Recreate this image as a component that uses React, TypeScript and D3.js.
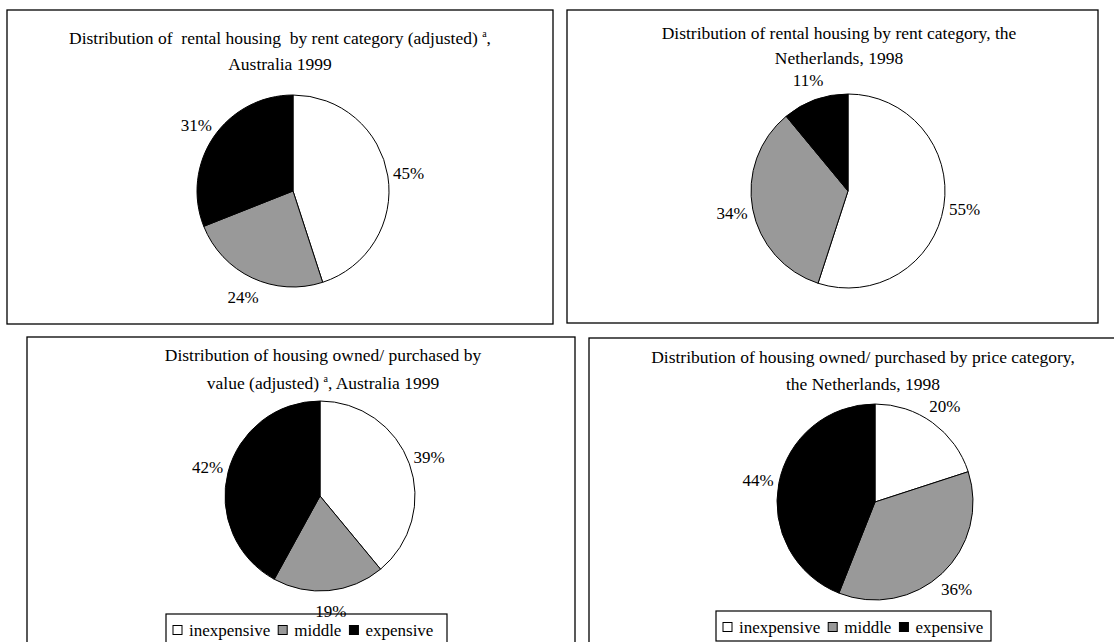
import React, { useEffect, useRef } from "react";
import * as d3 from "d3";

// Shares (%) per category, in the order inexpensive, middle, expensive
const categories = ["inexpensive", "middle", "expensive"];
const rentAustralia = [45, 24, 31];
const rentNetherlands = [55, 34, 11];
const ownedAustralia = [39, 19, 42];
const ownedNetherlands = [20, 36, 44];

// Title lines; "^a" marks a superscript footnote letter
const titleRentAustralia = [
  "Distribution of  rental housing  by rent category (adjusted) ^a,",
  "Australia 1999",
];
const titleRentNetherlands = [
  "Distribution of rental housing by rent category, the",
  "Netherlands, 1998",
];
const titleOwnedAustralia = [
  "Distribution of housing owned/ purchased by",
  "value (adjusted) ^a, Australia 1999",
];
const titleOwnedNetherlands = [
  "Distribution of housing owned/ purchased by price category,",
  "the Netherlands, 1998",
];

const fills = ["#ffffff", "#999999", "#000000"];
const FONT = "'Liberation Serif', 'Times New Roman', serif";

type Panel = {
  values: number[];
  title: string[];
  box: { x: number; y: number; w: number; h: number };
  pie: { cx: number; cy: number; r: number };
  titleX: number;
  titleY: number[];
  legend?: { x: number; y: number; w: number; h: number };
};

const panels: Panel[] = [
  {
    values: rentAustralia,
    title: titleRentAustralia,
    box: { x: 7, y: 10, w: 546, h: 314 },
    pie: { cx: 293, cy: 191, r: 96 },
    titleX: 280,
    titleY: [44, 70],
  },
  {
    values: rentNetherlands,
    title: titleRentNetherlands,
    box: { x: 567, y: 10, w: 531, h: 313 },
    pie: { cx: 848, cy: 191, r: 97 },
    titleX: 839,
    titleY: [39, 64],
  },
  {
    values: ownedAustralia,
    title: titleOwnedAustralia,
    box: { x: 27, y: 337, w: 548, h: 340 },
    pie: { cx: 320, cy: 496, r: 95 },
    titleX: 323,
    titleY: [361, 389],
    legend: { x: 166, y: 614, w: 281, h: 40 },
  },
  {
    values: ownedNetherlands,
    title: titleOwnedNetherlands,
    box: { x: 589, y: 338, w: 560, h: 340 },
    pie: { cx: 875, cy: 502, r: 98 },
    titleX: 863,
    titleY: [363, 390],
    legend: { x: 716, y: 611, w: 275, h: 30 },
  },
];

const LABEL_GAP = 21;

export default function App() {
  const ref = useRef<SVGSVGElement | null>(null);

  useEffect(() => {
    const svg = d3.select(ref.current);
    svg.selectAll("*").remove();

    const pieGen = d3
      .pie<number>()
      .sort(null)
      .value((d) => d)
      .startAngle(0)
      .endAngle(2 * Math.PI);

    const labelLayer: Array<() => void> = [];

    panels.forEach((p) => {
      const g = svg.append("g");

      g.append("rect")
        .attr("x", p.box.x)
        .attr("y", p.box.y)
        .attr("width", p.box.w)
        .attr("height", p.box.h)
        .attr("fill", "#fff")
        .attr("stroke", "#000")
        .attr("stroke-width", 1.3);

      // title lines, with superscript support
      p.title.forEach((line, i) => {
        const t = g
          .append("text")
          .attr("x", p.titleX)
          .attr("y", p.titleY[i])
          .attr("text-anchor", "middle")
          .attr("font-family", FONT)
          .attr("font-size", 17.5)
          .style("white-space", "pre")
          .attr("fill", "#000");
        const parts = line.split("^a");
        parts.forEach((part, k) => {
          if (k > 0) {
            t.append("tspan").attr("font-size", 10).attr("dy", -7).text("a");
            t.append("tspan").attr("dy", 7).text(part);
          } else {
            t.append("tspan").text(part);
          }
        });
      });

      const arcs = pieGen(p.values);
      const arc = d3.arc<d3.PieArcDatum<number>>().innerRadius(0).outerRadius(p.pie.r);
      const pg = g.append("g").attr("transform", `translate(${p.pie.cx},${p.pie.cy})`);
      pg.selectAll("path")
        .data(arcs)
        .join("path")
        .attr("d", arc)
        .attr("fill", (_, i) => fills[i])
        .attr("stroke", "#000")
        .attr("stroke-width", 1)
        .attr("stroke-linejoin", "round");

      if (p.legend) {
        const L = p.legend;
        const lg = g.append("g");
        lg.append("rect")
          .attr("x", L.x)
          .attr("y", L.y)
          .attr("width", L.w)
          .attr("height", L.h)
          .attr("fill", "#fff")
          .attr("stroke", "#000")
          .attr("stroke-width", 1.2);
        const base = L.y + 22;
        let x = L.x + 7;
        categories.forEach((c, i) => {
          lg.append("rect")
            .attr("x", x)
            .attr("y", base - 10.5)
            .attr("width", 9)
            .attr("height", 9)
            .attr("fill", fills[i])
            .attr("stroke", "#000")
            .attr("stroke-width", 1);
          const t = lg
            .append("text")
            .attr("x", x + 16)
            .attr("y", base)
            .attr("font-family", FONT)
            .attr("font-size", 17)
            .attr("fill", "#000")
            .text(c);
          const w = (t.node() as SVGTextElement).getComputedTextLength();
          x = x + 16 + w + 8;
        });
      }

      // percentage labels are drawn last so they sit above legend boxes
      labelLayer.push(() => {
        const rr = p.pie.r + LABEL_GAP;
        svg
          .append("g")
          .attr("transform", `translate(${p.pie.cx},${p.pie.cy})`)
          .selectAll("text")
          .data(arcs)
          .join("text")
          .attr("transform", (d) => {
            const a = (d.startAngle + d.endAngle) / 2;
            return `translate(${Math.sin(a) * rr},${-Math.cos(a) * rr})`;
          })
          .attr("text-anchor", "middle")
          .attr("dy", "0.35em")
          .attr("font-family", FONT)
          .attr("font-size", 17)
          .attr("fill", "#000")
          .text((d) => `${d.data}%`);
      });
    });

    labelLayer.forEach((f) => f());
  }, []);

  return (
    <svg
      ref={ref}
      width={1114}
      height={642}
      style={{ position: "absolute", left: 0, top: 0, display: "block", background: "#fff" }}
    />
  );
}
